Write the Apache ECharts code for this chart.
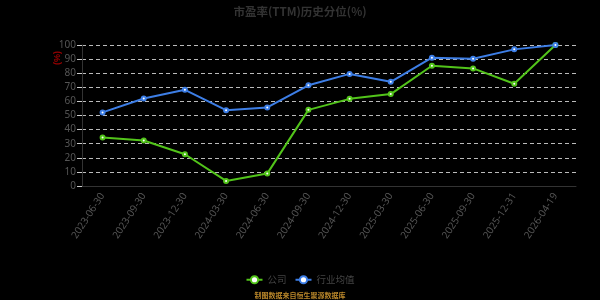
<!DOCTYPE html>
<html><head><meta charset="utf-8">
<script src="https://cdn.jsdelivr.net/npm/echarts@6/dist/echarts.min.js"></script>
<style>html,body{margin:0;padding:0;background:#000;}#c{width:600px;height:300px;}</style>
</head><body><div id="c"></div>
<script>
const categories = ['2023-06-30','2023-09-30','2023-12-30','2024-03-30','2024-06-30','2024-09-30','2024-12-30','2025-03-30','2025-06-30','2025-09-30','2025-12-31','2026-04-19'];
const companyValues = [34.4, 32.3, 22.5, 3.6, 8.8, 54.0, 61.8, 65.2, 85.3, 83.4, 72.5, 100];
const industryValues = [52.2, 62.1, 68.2, 53.8, 55.7, 71.4, 79.5, 73.9, 91.0, 90.3, 96.9, 100];
const yTicks = {min: 0, max: 100, interval: 10};

const chart = echarts.init(document.getElementById('c'));
chart.setOption({
  backgroundColor: '#000',
  animation: false,
  title: {
    text: '市盈率(TTM)历史分位(%)', left: 'center', top: 1,
    textStyle: {color: '#333', fontSize: 11.5, fontWeight: 'bold', fontFamily: 'Noto Sans CJK SC'}
  },
  grid: {left: 82, right: 24, top: 45, bottom: 114},
  legend: {
    top: 270, left: 'center', itemWidth: 16, itemHeight: 9, itemGap: 8,
    textStyle: {color: '#444', fontSize: 9.5, fontFamily: 'Noto Sans CJK SC'},
    data: ['公司', '行业均值']
  },
  graphic: [
    {type: 'text', left: 'center', top: 292,
     style: {text: '制图数据来自恒生聚源数据库', fill: '#b8862a', fontSize: 7, fontFamily: 'Noto Sans CJK SC', fontWeight: 'bold'}},
    {type: 'text', x: 58, y: 58, rotation: Math.PI / 2,
     style: {text: '(%)', fill: '#9b0000', fontSize: 9, align: 'center', verticalAlign: 'middle', fontWeight: 'bold'}}
  ],
  xAxis: {
    type: 'category', data: categories, boundaryGap: true,
    axisLine: {lineStyle: {color: '#333'}},
    axisTick: {lineStyle: {color: '#333'}},
    axisLabel: {color: '#555', fontSize: 10, rotate: 57, interval: 0, fontFamily: 'Noto Sans'}
  },
  yAxis: {
    type: 'value', min: yTicks.min, max: yTicks.max, interval: yTicks.interval,
    axisLine: {show: true, lineStyle: {color: '#333'}},
    axisTick: {show: true, lineStyle: {color: '#ccc'}},
    axisLabel: {color: '#555', fontSize: 10, fontFamily: 'Noto Sans', margin: 6},
    splitLine: {lineStyle: {color: '#bbb', type: [4, 3]}}
  },
  series: [
    {name: '公司', type: 'line', data: companyValues, symbol: 'emptyCircle', symbolSize: 4,
     itemStyle: {color: '#52c41a', borderColor: '#52c41a'}, lineStyle: {color: '#52c41a', width: 2}},
    {name: '行业均值', type: 'line', data: industryValues, symbol: 'emptyCircle', symbolSize: 4,
     itemStyle: {color: '#3d7ee6', borderColor: '#3d7ee6'}, lineStyle: {color: '#3d7ee6', width: 2}}
  ]
});
</script></body></html>
